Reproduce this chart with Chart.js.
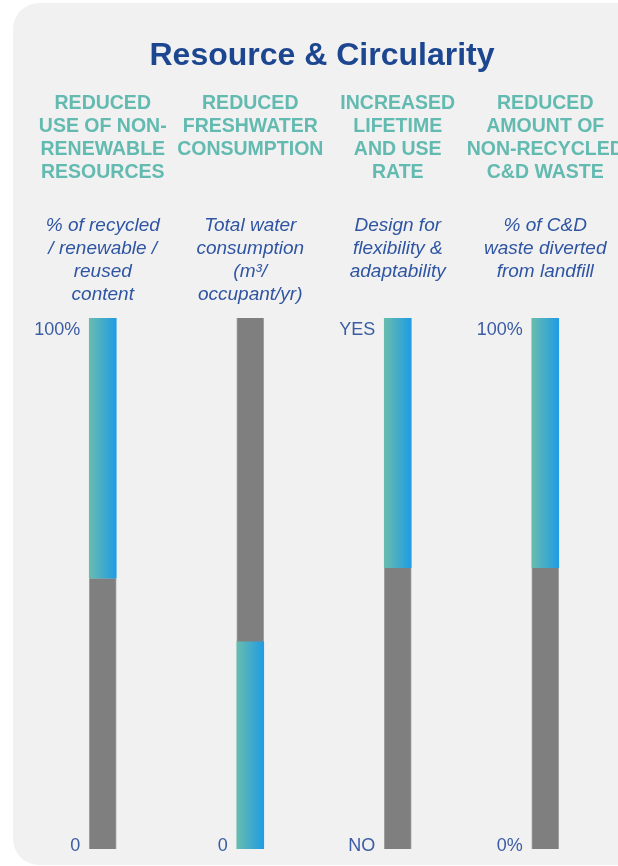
<!DOCTYPE html>
<html>
<head>
<meta charset="utf-8">
<title>Resource &amp; Circularity</title>
<script src="https://cdn.jsdelivr.net/npm/chart.js"></script>
<style>
  html, body { margin: 0; padding: 0; background: #fff; overflow: hidden; }
  canvas { display: block; }
</style>
</head>
<body>
<canvas id="Chart" width="620" height="866"></canvas>
<script>
const chartTitle = 'Resource & Circularity';

const categories = ['non-renewable', 'freshwater', 'lifetime', 'cd-waste'];

const headerLines = [
  ['REDUCED', 'USE OF NON-', 'RENEWABLE', 'RESOURCES'],
  ['REDUCED', 'FRESHWATER', 'CONSUMPTION'],
  ['INCREASED', 'LIFETIME', 'AND USE', 'RATE'],
  ['REDUCED', 'AMOUNT OF', 'NON-RECYCLED', 'C&D WASTE']
];

const metricLines = [
  ['% of recycled', '/ renewable /', 'reused', 'content'],
  ['Total water', 'consumption', '(m³/', 'occupant/yr)'],
  ['Design for', 'flexibility &', 'adaptability'],
  ['% of C&D', 'waste diverted', 'from landfill']
];

// coloured segment and grey remainder of each gauge, on a 0-100 scale
const scoreRange = [[51, 100], [0, 39], [53, 100], [53, 100]];
const restRange = [[0, 51], [39, 100], [0, 53], [0, 53]];

const topTicks = ['100%', '', 'YES', '100%'];
const bottomTicks = ['0', '0', 'NO', '0%'];

const FONT = '"Liberation Sans", Arial, sans-serif';
const BAR_W = 27;

const chartCanvas = document.getElementById('Chart');
const ctx = chartCanvas.getContext('2d');

// teal -> blue horizontal fill across each bar
function scoreFill(context) {
  const chart = context.chart;
  if (!chart.chartArea) return '#66bcae';
  const cx = chart.scales.x.getPixelForValue(context.dataIndex);
  const g = chart.ctx.createLinearGradient(cx - BAR_W / 2, 0, cx + BAR_W / 2, 0);
  g.addColorStop(0, '#68bcae');
  g.addColorStop(1, '#1f9ce3');
  return g;
}

function drawLines(c, lines, cx, baseline, step) {
  lines.forEach((txt, k) => c.fillText(txt, cx, baseline + k * step));
}

const panelPlugin = {
  id: 'panel',
  beforeDraw(chart) {
    const c = chart.ctx;
    c.save();
    c.fillStyle = '#f1f1f1';
    c.beginPath();
    c.roundRect(13, 3, 640, 862, 26);
    c.fill();
    c.restore();
  },
  afterDraw(chart) {
    const c = chart.ctx;
    const xs = chart.scales.x;
    const ys = chart.scales.y;
    c.save();
    c.textBaseline = 'alphabetic';
    c.textAlign = 'center';

    c.fillStyle = '#1d4690';
    c.font = 'bold 32px ' + FONT;
    c.fillText(chartTitle, 322, 65);

    categories.forEach((cat, i) => {
      const cx = xs.getPixelForValue(i);

      c.textAlign = 'center';
      c.fillStyle = '#62bab0';
      c.font = 'bold 19.5px ' + FONT;
      drawLines(c, headerLines[i], cx, 109, 23);

      c.fillStyle = '#2f55a2';
      c.font = 'italic 19px ' + FONT;
      drawLines(c, metricLines[i], cx, 231, 23);

      c.textAlign = 'right';
      c.fillStyle = '#3a5ca4';
      c.font = '18px ' + FONT;
      const lx = cx - BAR_W / 2 - 9;
      c.fillText(topTicks[i], lx, ys.getPixelForValue(100) + 17);
      c.fillText(bottomTicks[i], lx, ys.getPixelForValue(0) + 2);
    });
    c.restore();
  }
};

new Chart(ctx, {
  type: 'bar',
  data: {
    labels: categories,
    datasets: [
      {
        label: 'score',
        data: scoreRange,
        backgroundColor: scoreFill,
        grouped: false,
        barThickness: BAR_W
      },
      {
        label: 'rest',
        data: restRange,
        backgroundColor: '#7f7f7f',
        borderColor: '#a2a2a2',
        borderWidth: { left: 1, right: 1, top: 0, bottom: 0 },
        borderSkipped: false,
        grouped: false,
        barThickness: BAR_W
      }
    ]
  },
  options: {
    responsive: false,
    animation: false,
    devicePixelRatio: 1,
    layout: { padding: { left: 29, right: 1, top: 318, bottom: 17 } },
    scales: {
      x: { display: false },
      y: { display: false, min: 0, max: 100 }
    },
    plugins: {
      legend: { display: false },
      tooltip: { enabled: false }
    }
  },
  plugins: [panelPlugin]
});
</script>
</body>
</html>
